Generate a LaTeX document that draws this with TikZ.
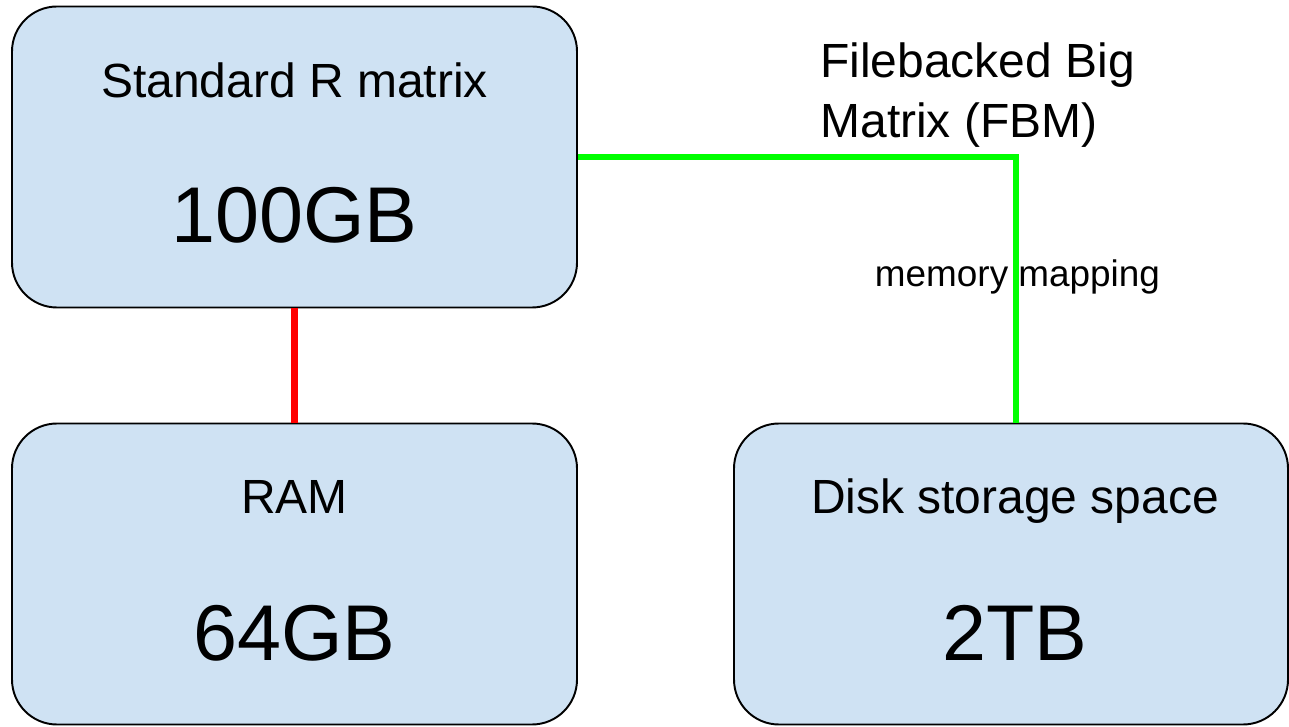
\documentclass[tikz,border=0pt]{standalone}
\usepackage{fontspec}
\setmainfont{Liberation Sans}
\usetikzlibrary{calc}

\definecolor{boxblue}{RGB}{207,226,243}
\definecolor{linkgreen}{RGB}{0,255,0}
\definecolor{linkred}{RGB}{255,0,0}

\tikzset{
    membox/.style={draw=black, line width=1.1pt, fill=boxblue, rounded corners=0.9cm,
        minimum height=6.02cm, inner sep=0pt},
    boxtitle/.style={font=\fontsize{27.3}{32.4}\selectfont, inner sep=0pt, anchor=base},
    sizelabel/.style={font=\fontsize{45}{54}\selectfont, inner sep=0pt, anchor=base},
}

\begin{document}
\begin{tikzpicture}

    \useasboundingbox (0,0) rectangle (25.78,14.52);

    % Boxes
    \node[membox, minimum width=11.3cm] (stdmat) at (5.89,11.38) {};
    \node[membox, minimum width=11.3cm] (ram) at (5.89,3.04) {};
    \node[membox, minimum width=11.08cm] (disk) at (20.22,3.04) {};

    % Box texts
    \node[boxtitle] (stdmattitle) at ($(stdmat.north)+(0,-1.84)$) {Standard R matrix};
    \node[sizelabel] (stdmatsize) at ($(stdmat.north)+(0,-4.74)$) {100GB};
    \node[boxtitle] (ramtitle) at ($(ram.north)+(0,-1.82)$) {RAM};
    \node[sizelabel] (ramsize) at ($(ram.north)+(0,-4.76)$) {64GB};
    \node[boxtitle] (disktitle) at ($(disk.north)+(0.08,-1.82)$) {Disk storage space};
    \node[sizelabel] (disksize) at ($(disk.north)+(0.08,-4.76)$) {2TB};

    % Links
    \draw[linkred, line width=4.5pt] (stdmat.south) -- (ram.north);
    \coordinate (bend) at (20.32,11.38);
    \draw[linkgreen, line width=3.4pt] (stdmat.east) -- (bend) -- (bend |- disk.north);

    % FBM labels
    \node[font=\fontsize{27.3}{34.5}\selectfont, align=left, inner sep=0pt, anchor=base west]
        (fbm) at (16.4,11.76) {Filebacked Big\\Matrix (FBM)};
    \node[font=\fontsize{21}{25}\selectfont, inner sep=0pt, anchor=base]
        (mmap) at (20.35,8.78) {memory mapping};

\end{tikzpicture}
\end{document}
